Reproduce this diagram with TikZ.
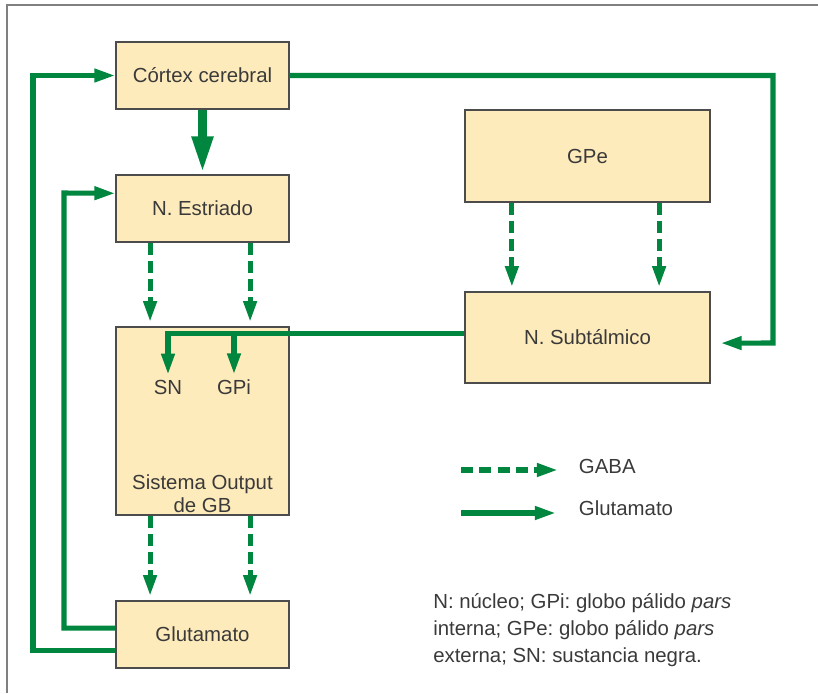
\documentclass[tikz,border=0pt]{standalone}
\usepackage{fontspec}
\setmainfont{Liberation Sans}
\usetikzlibrary{arrows.meta}
\definecolor{pathgreen}{RGB}{0,134,62}
\definecolor{nucleus}{RGB}{254,235,187}
\definecolor{ink}{RGB}{58,58,58}
\frenchspacing
\begin{document}
\begin{tikzpicture}[x=0.025cm,y=-0.025cm]
    \tikzset{txt/.style={text=ink,font=\fontsize{14.5}{16.5}\selectfont}};
    \tikzset{box/.style={txt,draw=black!70,fill=nucleus,line width=0.8pt,minimum width=4.325cm,minimum height=1.675cm}};
    \tikzset{glu/.style={draw=pathgreen,line width=3.6pt,-{Triangle[length=15pt,width=9pt]}}};
    \tikzset{gaba/.style={glu,dash pattern=on 8.5pt off 4.5pt,shorten >=3pt}};
    \useasboundingbox (0,0) rectangle (818,693);
    \draw[black!50,line width=1.5pt] (7,693) -- (7,5) -- (818,5);
    \node[box] (cortex) at (202.5,75.5) {Córtex cerebral};
    \node[box] (striatum) at (202.5,208.5) {N. Estriado};
    \node[box,minimum height=4.7cm] (output) at (202.5,421) {};
    \node[box] (glut) at (202.5,634.5) {Glutamato};
    \node[box,minimum width=6.125cm,minimum height=2.3cm] (gpe) at (587.5,156) {GPe};
    \node[box,minimum width=6.125cm,minimum height=2.275cm] (stn) at (587.5,337.5) {N. Subtálmico};
    \node[txt] (sn) at (168,387) {SN};
    \node[txt] (gpi) at (234,387) {GPi};
    \node[txt,align=center] (outname) at (202.5,494) {Sistema Output\\de GB};
    \draw[glu,line width=6pt,-{Triangle[length=26pt,width=14pt]},shorten >=1pt] (cortex) -- (striatum);
    \draw[glu] (cortex.east) -| (773,343) -- ([xshift=0.25cm,yshift=-0.14cm]stn.east);
    \draw[glu] ([yshift=-0.39cm]glut.west) -| (33,75.5) -- (cortex.west);
    \draw[glu] ([yshift=0.16cm]glut.west) -| (64,193) -- ([yshift=0.38cm]striatum.west);
    \foreach \dx in {-1.31,1.19} {
        \draw[gaba] ([xshift=\dx cm]striatum.south) -- ([xshift=\dx cm]output.north);
        \draw[gaba] ([xshift=\dx cm]output.south) -- ([xshift=\dx cm]glut.north);
    }
    \foreach \dx in {-1.89,1.79}
        \draw[gaba] ([xshift=\dx cm]gpe.south) -- ([xshift=\dx cm]stn.north);
    \coordinate (tap) at ([yshift=0.09cm]stn.west);
    \draw[glu] (tap) -| (sn.north);
    \draw[glu] (tap -| gpi.north) -- (gpi.north);
    \node[txt,anchor=west] (gabakey) at (574,466) {GABA};
    \node[txt,anchor=west] (glukey) at (574,508) {Glutamato};
    \coordinate (gabatail) at (461,470);
    \coordinate (glutail) at (461,513);
    \draw[gaba,shorten >=0pt] (gabatail) -- (gabatail -| 558,0);
    \draw[glu] (glutail) -- (glutail -| 556,0);
    \node[txt,anchor=north west,align=left,inner sep=0pt,font=\fontsize{14.5}{19.2}\selectfont] (note) at (433,593)
        {N: núcleo; GPi: globo pálido \textit{pars}\\interna; GPe: globo pálido \textit{pars}\\externa; SN: sustancia negra.};
\end{tikzpicture}
\end{document}
